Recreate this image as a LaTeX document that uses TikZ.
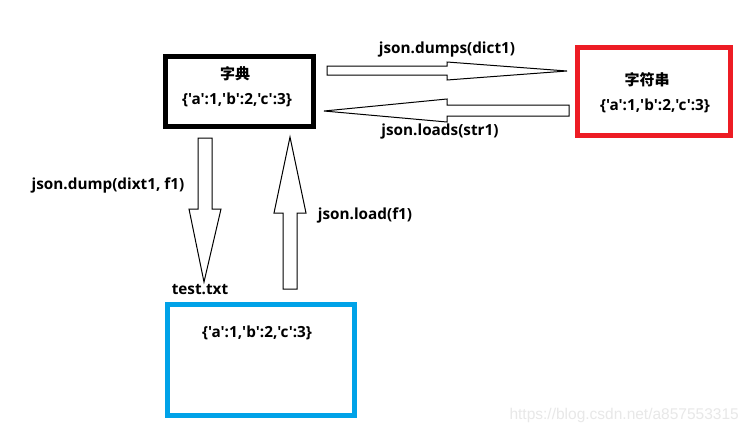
\documentclass[tikz,border=0pt]{standalone}
\usepackage{fontspec}
\setmainfont{Open Sans}[Ligatures=TeXOff]
\newfontfamily\cjk{Noto Sans CJK SC}
\newfontfamily\wm{Liberation Sans}
\definecolor{pred}{HTML}{ED1C24}
\definecolor{pblue}{HTML}{00A2E8}
\tikzset{
  boxthick/.style={draw, line width=5pt, minimum width=#1, inner sep=0pt},
  lbl/.style={font=\fontsize{15.3}{17}\selectfont\bfseries, inner sep=0pt},
  cjklbl/.style={font=\fontsize{15}{17}\selectfont\cjk\bfseries, inner sep=0pt},
  blockarrow/.style={draw=black, line width=1pt, fill=white, line join=miter}
}
\begin{document}
\begin{tikzpicture}[x=1pt,y=-1pt]
\useasboundingbox[fill=white] (0,0) rectangle (749,434);
% boxes
\node[boxthick=148pt, minimum height=70pt, draw=black] (dict) at (239.5,91.5) {};
\node[boxthick=153pt, minimum height=88pt, draw=pred] (str) at (654,91.5) {};
\node[boxthick=187pt, minimum height=111pt, draw=pblue] (file) at (261,360) {};
% box texts
\node[cjklbl] (dictT) at (235,74) {字典};
\node[lbl] (dictD) at (237,100) {\{'a':1,'b':2,'c':3\}};
\node[cjklbl] (strT) at (647,80) {字符串};
\node[lbl] (strD) at (655,106) {\{'a':1,'b':2,'c':3\}};
\node[lbl] (fileD) at (257,333) {\{'a':1,'b':2,'c':3\}};
\node[lbl] (fileT) at (200,290) {test.txt};
% block arrows
\draw[blockarrow] (327,66) -- (447,66) -- (447,62) -- (567,71) -- (447,80) -- (447,75) -- (327,75) -- cycle;
\draw[blockarrow] (569,105) -- (447,105) -- (447,99) -- (324,111) -- (447,122) -- (447,116) -- (569,116) -- cycle;
\draw[blockarrow] (198,138) -- (212,138) -- (212,209) -- (221,209) -- (204,282) -- (189,209) -- (198,209) -- cycle;
\draw[blockarrow] (283,289) -- (297,289) -- (297,213) -- (306,213) -- (290,137) -- (274,213) -- (283,213) -- cycle;
% arrow labels
\node[lbl] (dumps) at (447,50) {json.dumps(dict1)};
\node[lbl] (loads) at (440,132) {json.loads(str1)};
\node[lbl] (dump) at (108,185) {json.dump(dixt1, f1)};
\node[lbl] (load) at (365,215) {json.load(f1)};
% watermark
\node[font=\fontsize{15.5}{17}\selectfont\wm, text=black!9, anchor=east, inner sep=0pt] (wmark) at (739,415) {https://blog.csdn.net/a857553315};
\end{tikzpicture}
\end{document}
